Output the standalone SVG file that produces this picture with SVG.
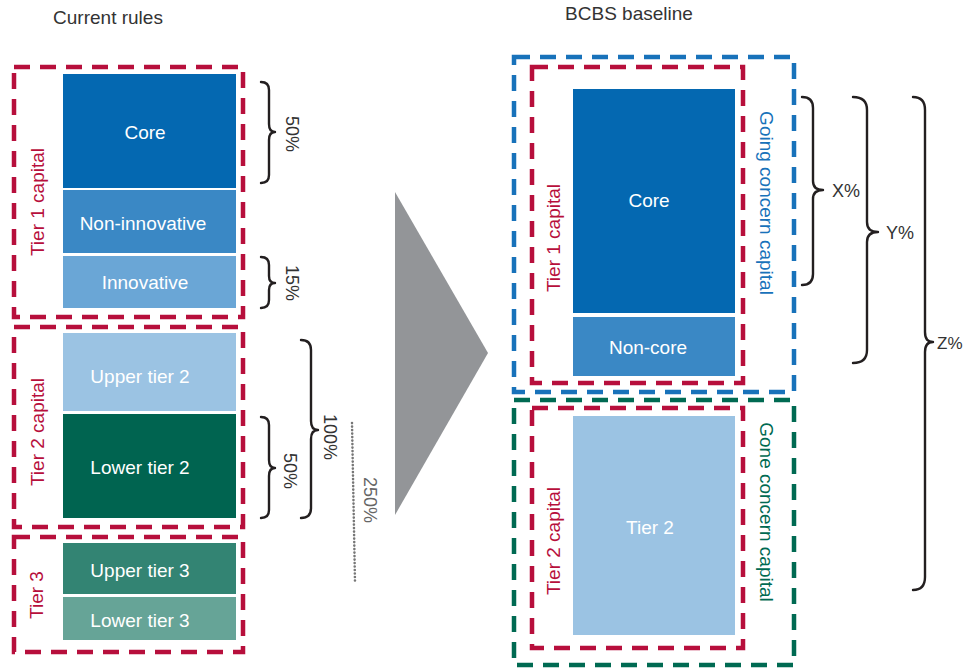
<svg xmlns="http://www.w3.org/2000/svg" width="966" height="668" viewBox="0 0 966 668">
<style>
text{font-family:"Liberation Sans",Arial,sans-serif;}
.lbl{font-size:19px;fill:#fff;text-anchor:middle;dominant-baseline:central;}
.red{fill:none;stroke:#B70F3C;stroke-width:4.5;stroke-dasharray:16 10;}
.blue{fill:none;stroke:#1872BA;stroke-width:4.5;stroke-dasharray:16 10;}
.green{fill:none;stroke:#006A52;stroke-width:4.5;stroke-dasharray:16 10;}
.rtx{font-size:19px;fill:#B70F3C;text-anchor:middle;dominant-baseline:central;}
.btx{font-size:19px;fill:#1872BA;text-anchor:middle;dominant-baseline:central;}
.gtx{font-size:19px;fill:#006A52;text-anchor:middle;dominant-baseline:central;}
.brace{fill:none;stroke:#231F20;stroke-width:2.4;stroke-linecap:round;stroke-linejoin:round;}
.pct{font-size:18px;fill:#333;text-anchor:middle;dominant-baseline:central;}
.pr{font-size:18px;fill:#333;text-anchor:start;dominant-baseline:central;}
.ttl{font-size:19px;fill:#333;text-anchor:middle;}
</style>
<rect width="966" height="668" fill="#fff"/>
<text class="ttl" x="108" y="24">Current rules</text>
<text class="ttl" x="629" y="20">BCBS baseline</text>

<g id="tier1-current">
<rect x="63" y="74" width="173" height="114" fill="#0468B1"/>
<text class="lbl" x="145" y="132">Core</text>
<rect x="63" y="190" width="173" height="63" fill="#3A88C5"/>
<text class="lbl" x="143" y="223">Non-innovative</text>
<rect x="63" y="256" width="173" height="52" fill="#6AA6D6"/>
<text class="lbl" x="145" y="282">Innovative</text>
<rect class="red" x="14" y="67" width="229" height="250"/>
<text class="rtx" transform="translate(37,202) rotate(-90)">Tier 1 capital</text>
</g>

<g id="tier2-current">
<rect x="63" y="333" width="173" height="78" fill="#9BC3E3"/>
<text class="lbl" x="140" y="376">Upper tier 2</text>
<rect x="63" y="414" width="173" height="104" fill="#006450"/>
<text class="lbl" x="140" y="467">Lower tier 2</text>
<rect class="red" x="14" y="327" width="229" height="200"/>
<text class="rtx" transform="translate(37,432) rotate(-90)">Tier 2 capital</text>
</g>

<g id="tier3-current">
<rect x="63" y="543" width="173" height="51" fill="#338473"/>
<text class="lbl" x="140" y="570">Upper tier 3</text>
<rect x="63" y="597" width="173" height="43" fill="#66A497"/>
<text class="lbl" x="140" y="620">Lower tier 3</text>
<rect class="red" x="14" y="537" width="229" height="115"/>
<text class="rtx" transform="translate(36,595) rotate(-90)">Tier 3</text>
</g>

<g id="arrow">
<polygon points="395,192 488,353 395,515" fill="#939598"/>
</g>

<g id="going-concern">
<rect class="blue" x="514" y="57" width="280" height="335"/>
<text class="btx" transform="translate(766,203) rotate(90)">Going concern capital</text>
</g>
<g id="tier1-bcbs">
<rect x="573" y="89" width="162" height="224" fill="#0468B1"/>
<text class="lbl" x="649" y="200">Core</text>
<rect x="573" y="317" width="162" height="59" fill="#3A88C5"/>
<text class="lbl" x="648" y="347">Non-core</text>
<rect class="red" x="532" y="67" width="211" height="316"/>
<text class="rtx" transform="translate(553,238) rotate(-90)">Tier 1 capital</text>
</g>

<g id="gone-concern">
<rect class="green" x="514" y="400" width="280" height="265"/>
<text class="gtx" transform="translate(766,512) rotate(90)">Gone concern capital</text>
</g>
<g id="tier2-bcbs">
<rect x="573" y="416" width="162" height="219" fill="#9BC3E3"/>
<text class="lbl" x="650" y="527">Tier 2</text>
<rect class="red" x="532" y="408" width="211" height="240"/>
<text class="rtx" transform="translate(553,541) rotate(-90)">Tier 2 capital</text>
</g>

<g id="connectors">
<path class="brace" d="M261,82 Q269,82 269,90 L269,124 Q269,132 275,132 Q269,132 269,140 L269,175 Q269,183 261,183"/>
<path class="brace" d="M261,257 Q269,257 269,265 L269,276 Q269,283 275,283 Q269,283 269,290 L269,300 Q269,308 261,308"/>
<path class="brace" d="M301,340 Q311,340 311,350 L311,421 Q311,430 318,430 Q311,430 311,439 L311,508 Q311,518 301,518"/>
<path class="brace" d="M261,417 Q269,417 269,425 L269,460 Q269,468 275,468 Q269,468 269,476 L269,510 Q269,518 261,518"/>
<path d="M352,423 L355,582" fill="none" stroke="#777" stroke-width="2.6" stroke-linecap="round" stroke-dasharray="0.1 3.4"/>
<path class="brace" d="M802,97 Q813,97 813,108 L813,181 Q813,190 823,190 Q813,190 813,199 L813,274 Q813,285 802,285"/>
<path class="brace" d="M853,97 Q867,97 867,110 L867,222 Q867,232 878,232 Q867,232 867,242 L867,350 Q867,363 853,363"/>
<path class="brace" d="M913,97 Q925,97 925,110 L925,332 Q925,342 933,342 Q925,342 925,352 L925,577 Q925,590 913,590"/>
<text class="pct" transform="translate(292,134) rotate(90)">50%</text>
<text class="pct" transform="translate(292,283) rotate(90)">15%</text>
<text class="pct" transform="translate(330,437) rotate(90)">100%</text>
<text class="pct" transform="translate(290,471) rotate(90)">50%</text>
<text class="pct" transform="translate(370,500) rotate(90)" style="fill:#666">250%</text>
<text class="pr" x="832" y="191">X%</text>
<text class="pr" x="886" y="233">Y%</text>
<text class="pr" x="937" y="343" style="font-size:17px">Z%</text>
</g>
</svg>
